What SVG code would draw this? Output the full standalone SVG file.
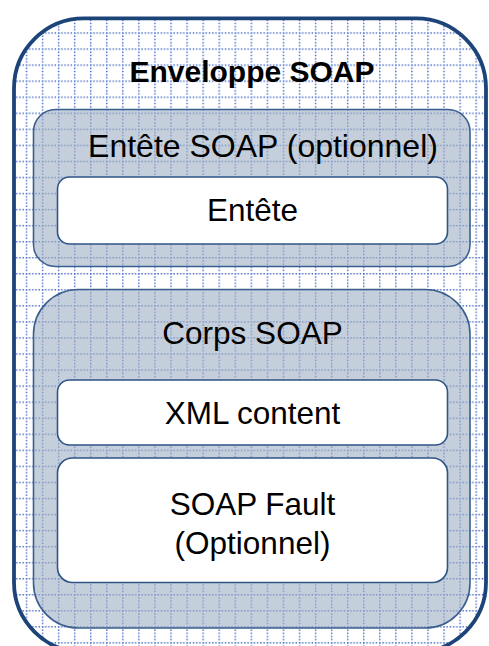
<svg xmlns="http://www.w3.org/2000/svg" width="489" height="646" viewBox="0 0 489 646">
  <style>
    .txt { font-family: "Liberation Sans", Arial, sans-serif; font-size: 31.5px; fill: #000; text-anchor: middle; }
    .title { font-weight: bold; font-size: 30px; }
    .grey { fill: #9eafc3; fill-opacity: 0.6; stroke: #3a5f8f; stroke-width: 1.6; }
    .white { fill: #ffffff; stroke: #2f5486; stroke-width: 1.6; }
    .gl { stroke: #3f63c6; stroke-width: 1.4; stroke-dasharray: 1.4 1.81; fill: none; }
  </style>
  <defs>
    <pattern id="grid" patternUnits="userSpaceOnUse" x="9.7" y="0.2" width="16.06" height="16.05">
      <line class="gl" x1="0" y1="0.7" x2="16.06" y2="0.7"/>
      <line class="gl" x1="0.7" y1="0" x2="0.7" y2="16.05"/>
    </pattern>
    <clipPath id="outerClip">
      <rect x="14" y="18.3" width="472" height="634" rx="70" ry="70"/>
    </clipPath>
  </defs>

  <g id="enveloppe">
    <rect x="14" y="18.3" width="472" height="634" rx="70" ry="70" fill="#ffffff"/>
    <rect x="0" y="0" width="489" height="646" fill="url(#grid)" clip-path="url(#outerClip)"/>
    <rect x="14" y="18.3" width="472" height="634" rx="70" ry="70" fill="none" stroke="#1c4478" stroke-width="3.8"/>
    <text class="txt title" x="252" y="81.7">Enveloppe SOAP</text>
  </g>

  <g id="entete-soap">
    <rect class="grey" x="33.5" y="109.5" width="436.5" height="157" rx="22" ry="22"/>
    <text class="txt" x="263" y="156.7" style="font-size:32px">Entête SOAP (optionnel)</text>
  </g>

  <g id="entete">
    <rect class="white" x="57.5" y="177" width="390" height="67" rx="12" ry="12"/>
    <text class="txt" x="252.5" y="220.7">Entête</text>
  </g>

  <g id="corps-soap">
    <rect class="grey" x="33.5" y="289.5" width="436.5" height="338.5" rx="45" ry="45"/>
    <text class="txt" x="252.5" y="344">Corps SOAP</text>
  </g>

  <g id="xml-content">
    <rect class="white" x="57.5" y="380" width="390" height="65" rx="12" ry="12"/>
    <text class="txt" x="252.5" y="424">XML content</text>
  </g>

  <g id="soap-fault">
    <rect class="white" x="57.5" y="458" width="390" height="124.5" rx="15" ry="15"/>
    <text class="txt" x="252.5" y="515">SOAP Fault</text>
    <text class="txt" x="252.5" y="554">(Optionnel)</text>
  </g>

  <g id="connectors"/>
</svg>
